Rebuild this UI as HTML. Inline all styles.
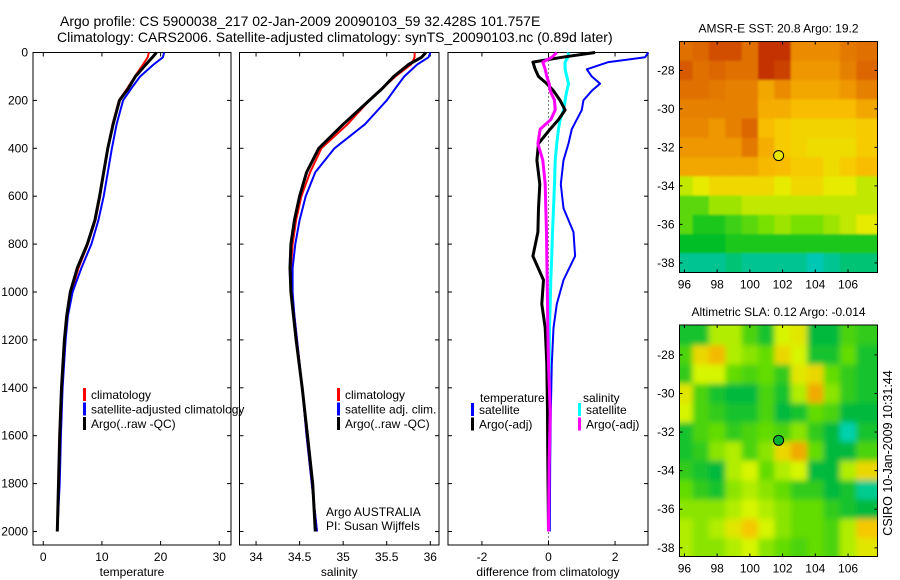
<!DOCTYPE html>
<html><head><meta charset="utf-8"><style>
body{margin:0;background:#fff;}
svg{display:block;font-family:"Liberation Sans",sans-serif;}
</style></head><body>
<svg id="fig" width="900" height="580" viewBox="0 0 900 580">
<defs>
<filter id="blurS" x="0" y="0" width="1" height="1"><feGaussianBlur stdDeviation="1.0"/></filter>
<filter id="blurL" x="0" y="0" width="1" height="1"><feGaussianBlur stdDeviation="3"/></filter>
<clipPath id="clipM1"><rect x="679.5" y="41.5" width="198" height="231"/></clipPath>
<clipPath id="clipM2"><rect x="679.5" y="325" width="198" height="231.5"/></clipPath>
</defs>
<text x="60" y="26" font-size="14">Argo profile: CS 5900038_217 02-Jan-2009 20090103_59 32.428S 101.757E</text>
<text x="57" y="42" font-size="14">Climatology: CARS2006. Satellite-adjusted climatology: synTS_20090103.nc (0.89d later)</text>
<text transform="translate(892,453) rotate(-90)" text-anchor="middle" font-size="12.5">CSIRO 10-Jan-2009 10:31:44</text>
<g id="plots"></g>
</svg>
<script>
// ---- profile data ----
const depthsTS = [0,20,50,100,150,200,300,400,500,600,700,800,900,1000,1100,1200,1400,1600,1800,2000];
const tempClim = [18.0,17.8,17.0,15.6,14.3,12.9,11.8,11.0,10.3,9.7,8.9,7.6,6.0,4.8,4.1,3.7,3.2,2.9,2.7,2.4];
const tempSat  = [20.6,20.4,18.8,16.5,15.0,13.6,12.5,11.7,11.0,10.3,9.4,8.2,6.5,5.0,4.2,3.8,3.3,3.0,2.8,2.4];
const tempArgo = [19.3,18.6,17.5,15.7,14.5,13.0,11.9,11.0,10.3,9.6,8.8,7.5,5.8,4.6,4.0,3.6,3.1,2.8,2.6,2.4];
const salClim = [35.82,35.82,35.78,35.60,35.45,35.30,35.05,34.75,34.62,34.52,34.46,34.42,34.40,34.41,34.44,34.47,34.53,34.58,34.64,34.70];
const salSat  = [36.0,35.98,35.85,35.70,35.60,35.50,35.25,34.90,34.68,34.57,34.50,34.45,34.42,34.42,34.44,34.47,34.53,34.58,34.64,34.70];
const salArgo = [35.95,35.90,35.75,35.58,35.45,35.30,35.00,34.72,34.58,34.50,34.44,34.40,34.39,34.40,34.43,34.46,34.53,34.59,34.65,34.68];
const depthsD = [0,20,40,70,100,130,160,200,240,280,320,380,450,550,650,750,850,950,1050,1150,1300,1500,1700,2000];
const dTempSat = [3.0,2.9,1.8,1.15,1.3,1.55,1.3,1.05,1.0,0.85,0.7,0.6,0.45,0.37,0.45,0.75,0.8,0.45,0.25,0.15,0.1,0.07,0.05,0.04];
const dSalSat  = [0.6,0.58,0.5,0.5,0.55,0.6,0.55,0.5,0.45,0.35,0.3,0.25,0.2,0.18,0.15,0.12,0.1,0.07,0.05,0.03,0.02,0.02,0.0,0.0];
const dTempArgo = [1.4,0.4,-0.47,-0.4,-0.3,-0.05,0.15,0.35,0.5,0.3,0.05,-0.3,-0.35,-0.26,-0.3,-0.32,-0.47,-0.15,-0.2,-0.1,-0.05,-0.03,-0.02,0.0];
const dSalArgo  = [0.25,0.1,-0.17,-0.1,-0.05,0.02,0.05,0.18,0.2,0.07,-0.25,-0.32,-0.17,-0.1,-0.08,-0.06,-0.05,-0.04,-0.03,-0.02,0.0,0.05,0.02,0.0];
const depthTicks = [0,200,400,600,800,1000,1200,1400,1600,1800,2000];
const tempTicks = [0,10,20,30];
const salTicks = [34,34.5,35,35.5,36];
const diffTicks = [-2,0,2];
// ---- map data (rows lat -27..-38, cols lon 96..107) ----
const mapLons = [96,97,98,99,100,101,102,103,104,105,106,107];
const mapLats = [-27,-28,-29,-30,-31,-32,-33,-34,-35,-36,-37,-38];
const sstGrid = [
[0.82,0.85,0.9,0.9,0.82,0.95,0.95,0.75,0.75,0.75,0.8,0.82],
[0.88,0.82,0.85,0.82,0.82,0.95,0.92,0.72,0.72,0.72,0.78,0.85],
[0.82,0.82,0.8,0.78,0.78,0.68,0.75,0.68,0.68,0.68,0.72,0.78],
[0.78,0.78,0.78,0.78,0.78,0.66,0.66,0.62,0.62,0.62,0.62,0.68],
[0.76,0.76,0.72,0.78,0.85,0.62,0.58,0.56,0.56,0.56,0.56,0.58],
[0.72,0.72,0.72,0.72,0.8,0.66,0.58,0.56,0.54,0.54,0.54,0.58],
[0.68,0.68,0.68,0.68,0.68,0.63,0.62,0.58,0.58,0.54,0.58,0.62],
[0.45,0.5,0.55,0.55,0.55,0.55,0.5,0.55,0.55,0.5,0.5,0.45],
[0.3,0.3,0.4,0.4,0.45,0.45,0.45,0.45,0.45,0.45,0.45,0.45],
[0.3,0.2,0.2,0.25,0.3,0.35,0.4,0.35,0.35,0.4,0.45,0.5],
[0.15,0.15,0.15,0.2,0.2,0.2,0.2,0.2,0.2,0.2,0.2,0.2],
[0.05,0.05,0.05,0.08,0.05,0.05,0.05,0.05,0.02,0.05,0.08,0.08]];
const slaGrid = [
[0.35,0.35,0.6,0.6,0.45,0.35,0.65,0.7,0.3,0.3,0.45,0.4],
[0.45,0.75,0.85,0.6,0.55,0.5,0.75,0.65,0.35,0.35,0.5,0.35],
[0.4,0.65,0.65,0.5,0.45,0.5,0.4,0.7,0.75,0.5,0.4,0.35],
[0.7,0.45,0.35,0.3,0.3,0.45,0.35,0.6,0.9,0.55,0.4,0.35],
[0.65,0.45,0.4,0.35,0.35,0.45,0.3,0.35,0.5,0.45,0.3,0.3],
[0.35,0.45,0.5,0.4,0.45,0.5,0.45,0.55,0.4,0.3,0.1,0.35],
[0.35,0.4,0.55,0.6,0.45,0.55,0.75,0.9,0.5,0.3,0.3,0.45],
[0.4,0.35,0.3,0.6,0.65,0.5,0.6,0.65,0.3,0.3,0.6,0.75],
[0.5,0.4,0.35,0.55,0.6,0.55,0.5,0.4,0.4,0.3,0.35,0.15],
[0.55,0.55,0.55,0.6,0.65,0.6,0.55,0.5,0.5,0.4,0.35,0.3],
[0.6,0.55,0.6,0.7,0.8,0.65,0.55,0.5,0.5,0.45,0.6,0.8],
[0.6,0.55,0.55,0.6,0.65,0.55,0.5,0.45,0.5,0.45,0.6,0.7]];
const lonTicks = [96,98,100,102,104,106];
const latTicks = [-28,-30,-32,-34,-36,-38];
const argoPos = [101.757,-32.428];

const NS='http://www.w3.org/2000/svg';
const root=document.getElementById('plots');
function mk(tag,attrs,parent){const e=document.createElementNS(NS,tag);for(const k in attrs)e.setAttribute(k,attrs[k]);(parent||root).appendChild(e);return e;}
function txt(s,attrs,parent){const e=mk('text',attrs,parent);e.textContent=s;return e;}

const Y0=52.5, YS=0.2395, YB=545;
const yD=d=>Y0+d*YS;

function panel(name,x0,x1,vmin,vmax,xticks,xlabel,showY){
  const g=mk('g',{});
  
  
  const sx=v=>x0+(v-vmin)/(vmax-vmin)*(x1-x0);
  for(const d of depthTicks){const y=yD(d);
    mk('line',{x1:x0,x2:x0+4,y1:y,y2:y,stroke:'#000'},g);
    mk('line',{x1:x1-4,x2:x1,y1:y,y2:y,stroke:'#000'},g);
    if(showY){const t=txt(String(d),{x:x0-5,y:y+4,'font-size':12,'text-anchor':'end'},g);
      
      }
  }
  for(const v of xticks){const x=sx(v);
    mk('line',{x1:x,x2:x,y1:YB,y2:YB-4,stroke:'#000'},g);
    mk('line',{x1:x,x2:x,y1:Y0,y2:Y0+4,stroke:'#000'},g);
    const t=txt(String(v),{x:x,y:YB+16,'font-size':12,'text-anchor':'middle'},g);
    
    
  }
  const t=txt(xlabel,{x:(x0+x1)/2,y:YB+31,'font-size':12,'text-anchor':'middle'},g);
  
  
  const r=mk('rect',{x:x0,y:Y0,width:x1-x0,height:YB-Y0,fill:'none',stroke:'#000'},g);
  
  
  return {g,sx};
}
function line(p,depths,vals,color,w,name){
  const pts=depths.map((d,i)=>p.sx(vals[i]).toFixed(1)+','+yD(d).toFixed(1)).join(' ');
  const l=mk('polyline',{points:pts,fill:'none',stroke:color,'stroke-width':w,'stroke-linejoin':'round'},p.g);
  
  
}
function legend(g,x,y,items){
  items.forEach((it,i)=>{const yy=y+i*14.5;
    mk('rect',{x:x,y:yy-10,width:3,height:13,fill:it[1]},g);
    const t=txt(it[0],{x:x+8,y:yy+1,'font-size':12},g);
    
    
  });
}
// Panel 1
const p1=panel('temperature-panel',33,231,-1.75,32.0,tempTicks,'temperature',true);
line(p1,depthsTS,tempClim,'#ff0000',2,'temp-climatology-line');
line(p1,depthsTS,tempSat,'#0000ff',2,'temp-satellite-line');
line(p1,depthsTS,tempArgo,'#000000',3,'temp-argo-line');
legend(p1.g,83,398,[['climatology','#f00'],['satellite-adjusted climatology','#00f'],['Argo(..raw -QC)','#000']]);
// Panel 2
const p2=panel('salinity-panel',239.5,439,33.81,36.10,salTicks,'salinity',false);
line(p2,depthsTS,salClim,'#ff0000',2,'sal-climatology-line');
line(p2,depthsTS,salSat,'#0000ff',2,'sal-satellite-line');
line(p2,depthsTS,salArgo,'#000000',3,'sal-argo-line');
legend(p2.g,337,398,[['climatology','#f00'],['satellite adj. clim.','#00f'],['Argo(..raw -QC)','#000']]);
{const a=txt('Argo AUSTRALIA',{x:326,y:516,'font-size':12},p2.g);
 const b=txt('PI: Susan Wijffels',{x:326,y:530,'font-size':12},p2.g);}
// Panel 3
const p3=panel('difference-panel',448,648,-3.02,2.99,diffTicks,'difference from climatology',false);
mk('line',{x1:p3.sx(0),x2:p3.sx(0),y1:Y0,y2:YB,stroke:'#000','stroke-dasharray':'1,3'},p3.g);
line(p3,depthsD,dTempSat,'#0000ff',2,'diff-temp-satellite-line');
line(p3,depthsD,dSalSat,'#00ffff',3,'diff-sal-satellite-line');
line(p3,depthsD,dTempArgo,'#000000',3,'diff-temp-argo-line');
line(p3,depthsD,dSalArgo,'#ff00ff',3,'diff-sal-argo-line');
{const a=txt('temperature',{x:480,y:402,'font-size':12},p3.g);
 const b=txt('salinity',{x:583,y:402,'font-size':12},p3.g);}
legend(p3.g,471,413,[['satellite','#00f'],['Argo(-adj)','#000']]);
legend(p3.g,578,413,[['satellite','#0ff'],['Argo(-adj)','#f0f']]);

// ---- maps ----
function lerpC(stops,v){v=Math.max(0,Math.min(1,v));
  for(let i=1;i<stops.length;i++){if(v<=stops[i][0]){const a=stops[i-1],b=stops[i];const f=(v-a[0])/(b[0]-a[0]);
    const c=[0,1,2].map(k=>Math.round(a[1][k]+(b[1][k]-a[1][k])*f));return 'rgb('+c.join(',')+')';}}
  const l=stops[stops.length-1][1];return 'rgb('+l.join(',')+')';}
const sstStops=[[0,[0,200,200]],[0.15,[0,190,40]],[0.35,[120,225,0]],[0.5,[230,235,0]],[0.6,[250,195,0]],[0.75,[235,140,0]],[0.88,[215,90,0]],[1,[180,20,0]]];
const slaStops=[[0,[0,220,230]],[0.3,[0,185,60]],[0.5,[100,220,0]],[0.65,[215,245,0]],[0.8,[245,200,0]],[1,[235,140,0]]];
function map(name,top,bottom,latTop,latBot,grid,stops,blur,clip,title,dotColor){
  const x0=679.5,x1=877.5,lonL=95.7,lonR=107.8;
  const g=mk('g',{});
  
  
  const sx=lo=>x0+(lo-lonL)/(lonR-lonL)*(x1-x0);
  const sy=la=>top+(latTop-la)/(latTop-latBot)*(bottom-top);
  const cg=mk('g',{'clip-path':'url(#'+clip+')'},g);
  const hg=mk('g',{filter:'url(#'+blur+')'},cg);
  mk('rect',{x:x0-10,y:top-10,width:x1-x0+20,height:bottom-top+20,fill:lerpC(stops,grid[0][0])},hg);
  mapLats.forEach((la,r)=>mapLons.forEach((lo,c)=>{
    const xa=sx(lo-0.5-(c==0?1:0)),xb=sx(lo+0.5+(c==mapLons.length-1?1:0));
    const ya=sy(la+0.5+(r==0?1:0)),yb=sy(la-0.5-(r==mapLats.length-1?1:0));
    const cell=mk('rect',{x:xa,y:ya,width:xb-xa+0.6,height:yb-ya+0.6,fill:lerpC(stops,grid[r][c])},hg);
    
    
  }));
  const dot=mk('circle',{cx:sx(argoPos[0]),cy:sy(argoPos[1]),r:5,fill:dotColor,stroke:'#000','stroke-width':1},g);
  
  
  mk('rect',{x:x0,y:top,width:x1-x0,height:bottom-top,fill:'none',stroke:'#000'},g);
  for(const lo of lonTicks){const x=sx(lo);
    mk('line',{x1:x,x2:x,y1:bottom,y2:bottom-3,stroke:'#000'},g);
    mk('line',{x1:x,x2:x,y1:top,y2:top+3,stroke:'#000'},g);
    const t=txt(String(lo),{x:x,y:bottom+16,'font-size':12,'text-anchor':'middle'},g);
    
    }
  for(const la of latTicks){const y=sy(la);
    mk('line',{x1:x0,x2:x0+3,y1:y,y2:y,stroke:'#000'},g);
    mk('line',{x1:x1-3,x2:x1,y1:y,y2:y,stroke:'#000'},g);
    const t=txt(String(la),{x:x0-5,y:y+4,'font-size':12,'text-anchor':'end'},g);
    
    }
  const tt=txt(title,{x:(x0+x1)/2,y:top-9,'font-size':12,'text-anchor':'middle'},g);
  
  
}
map('sst-map',41.5,272.5,-26.5,-38.5,sstGrid,sstStops,'blurS','clipM1','AMSR-E SST: 20.8 Argo: 19.2','#e8e800');
map('sla-map',325,556.5,-26.45,-38.45,slaGrid,slaStops,'blurL','clipM2','Altimetric SLA: 0.12 Argo: -0.014','#00b030');
</script>
</body></html>
